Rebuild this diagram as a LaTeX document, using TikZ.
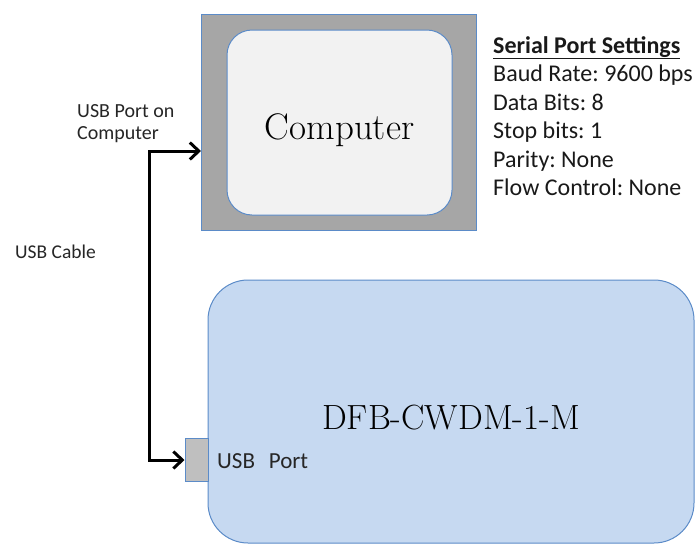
\documentclass[tikz,border=0pt]{standalone}
\usepackage{fontspec}
\setsansfont{Carlito}
\newfontfamily\labelfont{Carlito}
\usetikzlibrary{arrows.meta}
\definecolor{boxblue}{HTML}{5B8BC8}
\definecolor{outergray}{HTML}{A6A6A6}
\definecolor{innerfill}{HTML}{F2F2F2}
\definecolor{dfbfill}{HTML}{C6D9F1}
\definecolor{portgray}{HTML}{BFBFBF}
\tikzset{
  outerbox/.style={draw=boxblue, line width=1pt, fill=outergray, minimum width=275pt, minimum height=216pt, inner sep=0pt},
  innerbox/.style={draw=boxblue, line width=1pt, fill=innerfill, rounded corners=25pt, minimum width=225pt, minimum height=185pt, inner sep=0pt, text height=33pt, text depth=0pt, font=\fontsize{37}{42}\selectfont},
  dfbbox/.style={draw=boxblue, line width=1pt, fill=dfbfill, rounded corners=40pt, minimum width=486pt, minimum height=263pt, inner sep=0pt, text height=35pt, text depth=0pt, font=\fontsize{35}{40}\selectfont},
  portbox/.style={draw=boxblue, line width=1pt, fill=portgray, minimum width=23pt, minimum height=43pt, inner sep=0pt},
  lbl/.style={inner sep=0pt, align=left, font=\labelfont\fontsize{20}{22.5}\selectfont, text=black!85},
  settings/.style={inner sep=0pt, align=left, font=\labelfont\fontsize{24}{28.5}\selectfont, text=black!90},
  cable/.style={line width=3pt, {Straight Barb[length=9pt,width=17pt]}-{Straight Barb[length=9pt,width=17pt]}}
}
\frenchspacing
\begin{document}
\frenchspacing
\begin{tikzpicture}[x=1pt,y=-1pt]
\useasboundingbox (0,0) rectangle (696,544);
\node[outerbox] (pc) at (338.5,122) {};
\node[innerbox] (pcin) at (339.5,122.5) {Computer};
\node[dfbbox] (dfb) at (451,411.5) {DFB-CWDM-1-M};
\node[portbox] (port) at (196.5,460) {};
\node[settings, anchor=north west] (set) at (493,36) {\underline{\textbf{Serial Port Settings}}\\Baud Rate: 9600 bps\\Data Bits: 8\\Stop bits: 1\\Parity: None\\Flow Control: None};
\node[lbl, anchor=north west] (pclbl) at (77,104) {USB Port on\\Computer};
\node[lbl, anchor=west, font=\labelfont\fontsize{19.5}{22}\selectfont] (cablelbl) at (15,252) {USB Cable};
\node[lbl, anchor=west, font=\labelfont\fontsize{23}{26}\selectfont] (portlbl) at (217,461) {USB\hspace{0.6em}Port};
\coordinate (pcport) at (201,151);
\coordinate (bend) at (149,151);
\draw[cable] (pcport) -- (bend) |- (port.west);
\end{tikzpicture}
\end{document}
